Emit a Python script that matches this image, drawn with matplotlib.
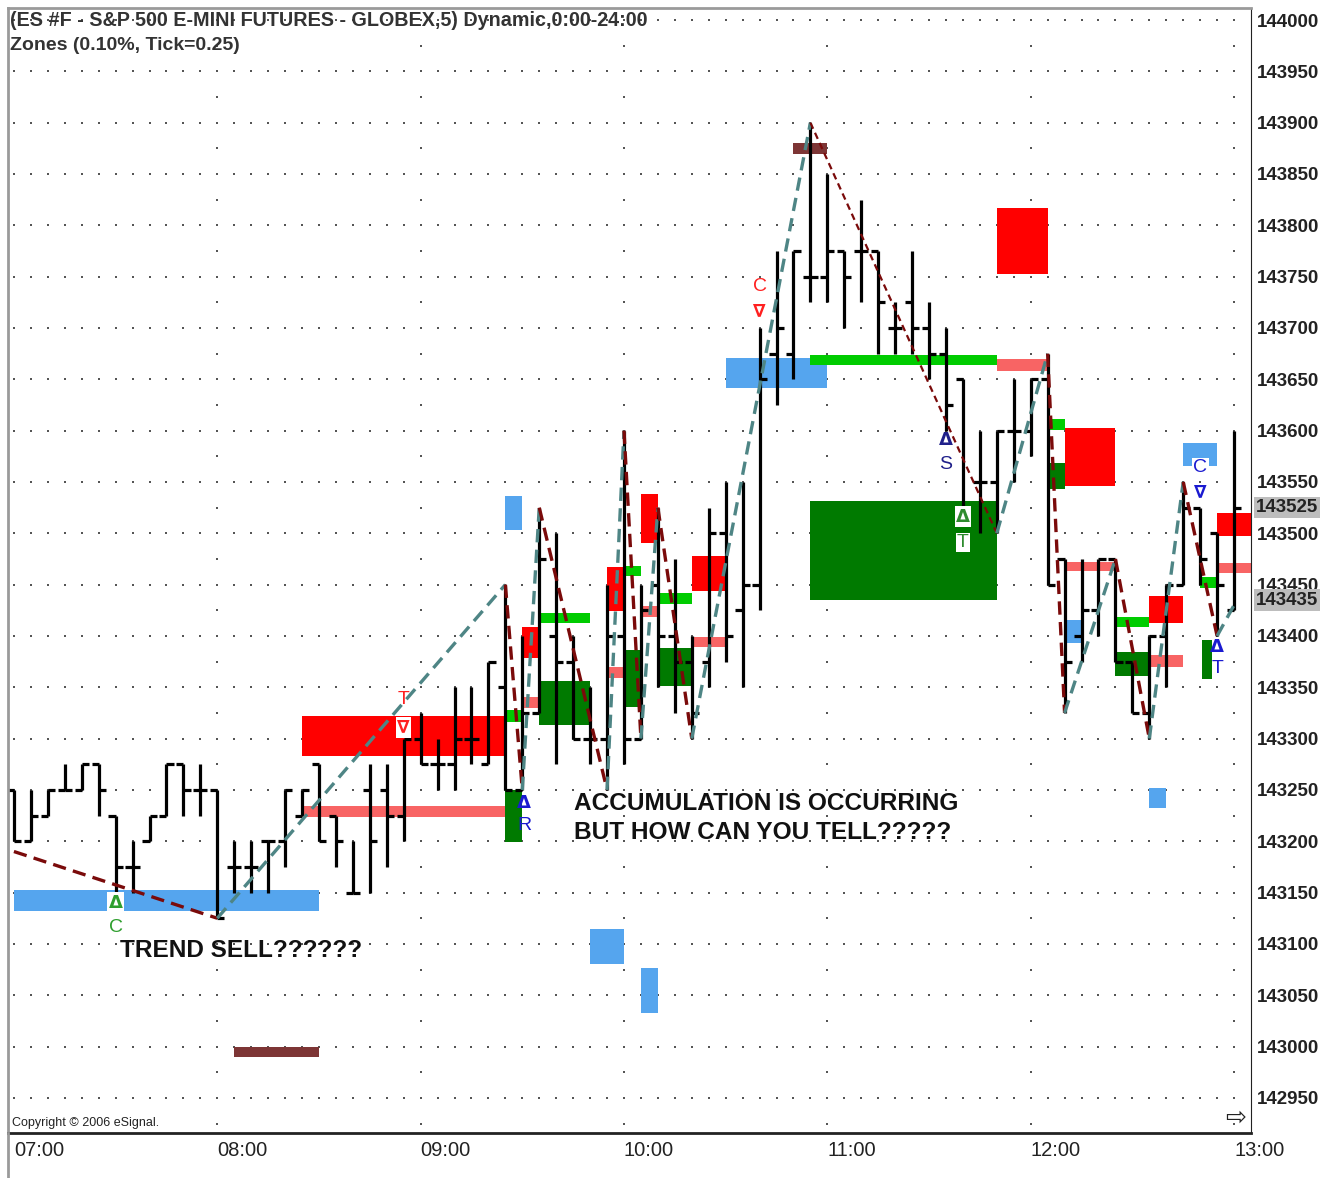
import numpy as np
import matplotlib.pyplot as plt

# 5-minute OHLC bars from 07:00 to 13:00 (price shown x100)
opens = [143250, 143200, 143225, 143250, 143250, 143275, 143225, 143175, 143200, 143225,
         143275, 143250, 143250, 143175, 143175, 143200, 143200, 143225, 143275, 143225,
         143150, 143250, 143250, 143225, 143300, 143275, 143275, 143300, 143275, 143350,
         143250, 143325, 143400, 143375, 143300, 143300, 143400, 143300, 143450, 143400,
         143375, 143375, 143500, 143425, 143450, 143675, 143675, 143750, 143750, 143775,
         143775, 143775, 143700, 143725, 143700, 143675, 143650, 143550, 143550, 143600,
         143600, 143650, 143475, 143400, 143425, 143475, 143375, 143325, 143400, 143450,
         143525, 143500, 143425]
highs = [143250, 143250, 143250, 143275, 143275, 143275, 143225, 143200, 143225, 143275,
         143275, 143275, 143250, 143200, 143200, 143200, 143250, 143250, 143275, 143225,
         143200, 143275, 143275, 143300, 143325, 143300, 143350, 143350, 143375, 143450,
         143400, 143525, 143500, 143400, 143350, 143450, 143600, 143450, 143525, 143475,
         143400, 143525, 143550, 143550, 143700, 143775, 143775, 143900, 143850, 143775,
         143825, 143775, 143725, 143775, 143725, 143700, 143650, 143600, 143600, 143650,
         143650, 143675, 143475, 143475, 143475, 143475, 143375, 143400, 143450, 143550,
         143525, 143500, 143600]
lows = [143200, 143200, 143225, 143250, 143250, 143225, 143150, 143150, 143200, 143225,
        143225, 143225, 143125, 143150, 143150, 143150, 143175, 143225, 143200, 143175,
        143150, 143150, 143175, 143200, 143275, 143250, 143250, 143275, 143275, 143250,
        143250, 143325, 143275, 143300, 143275, 143250, 143275, 143300, 143350, 143325,
        143300, 143350, 143375, 143350, 143425, 143625, 143650, 143725, 143725, 143700,
        143725, 143675, 143675, 143675, 143650, 143600, 143525, 143500, 143500, 143550,
        143575, 143450, 143325, 143375, 143400, 143375, 143325, 143300, 143350, 143450,
        143450, 143400, 143425]
closes = [143200, 143225, 143250, 143250, 143275, 143250, 143175, 143175, 143225, 143275,
          143250, 143250, 143125, 143175, 143175, 143200, 143250, 143250, 143200, 143200,
          143150, 143200, 143225, 143300, 143275, 143275, 143300, 143300, 143375, 143250,
          143325, 143475, 143375, 143300, 143300, 143400, 143300, 143425, 143400, 143375,
          143325, 143500, 143400, 143450, 143650, 143700, 143775, 143750, 143775, 143750,
          143775, 143725, 143700, 143700, 143675, 143625, 143525, 143550, 143600, 143600,
          143650, 143450, 143375, 143425, 143475, 143375, 143325, 143400, 143450, 143525,
          143475, 143450, 143525]

time_labels = ['07:00', '08:00', '09:00', '10:00', '11:00', '12:00', '13:00']

# zones: start bar, end bar, low, high, kind
zone_start = [0, 13, 17, 17, 29, 29, 29, 30, 30, 31, 31, 35, 36, 35, 36, 37, 37, 38, 38, 40, 40,
              34, 37, 42, 46, 47, 58, 58, 47, 61, 62, 61, 62, 62, 65, 65, 67, 67, 67, 69, 70,
              71, 71, 70.1]
zone_end = [18, 18, 29, 29, 30, 30, 30, 31, 31, 34, 34, 36, 37, 36, 37, 38, 38, 40, 40, 42, 42,
            36, 38, 48, 48, 58, 61, 61, 58, 62, 65, 62, 65, 63, 67, 67, 69, 69, 68, 71, 71,
            73, 73, 70.7]
zone_low = [143132, 142990, 143283, 143224, 143199, 143503, 143316, 143330, 143379, 143413,
            143313, 143424, 143458, 143359, 143331, 143491, 143418, 143431, 143351, 143444,
            143389, 143080, 143033, 143642, 143869, 143664, 143753, 143658, 143435, 143601,
            143546, 143543, 143463, 143393, 143409, 143361, 143413, 143370, 143232, 143566,
            143447, 143497, 143461, 143358]
zone_high = [143153, 143000, 143322, 143234, 143250, 143536, 143328, 143341, 143409, 143422,
             143356, 143467, 143468, 143370, 143386, 143538, 143429, 143442, 143388, 143478,
             143399, 143115, 143077, 143671, 143880, 143674, 143817, 143670, 143531, 143611,
             143603, 143568, 143472, 143416, 143418, 143384, 143439, 143381, 143252, 143588,
             143457, 143520, 143471, 143396]
zone_kind = ['blue', 'brown', 'red', 'salmon', 'dkgreen', 'blue', 'lime', 'salmon', 'red', 'lime',
             'dkgreen', 'red', 'lime', 'salmon', 'dkgreen', 'red', 'salmon', 'lime', 'dkgreen', 'red',
             'salmon', 'blue', 'blue', 'blue', 'brown', 'lime', 'red', 'salmon', 'dkgreen', 'lime',
             'red', 'dkgreen', 'salmon', 'blue', 'lime', 'dkgreen', 'red', 'salmon', 'blue', 'blue',
             'lime', 'red', 'salmon', 'dkgreen']

# swing pivots (bar index) alternating low / high
pivot_idx = [12, 29, 30, 31, 35, 36, 37, 38, 40, 47, 58, 61, 62, 65, 67, 69, 71]
swing_start = (0, 143190)
swing_end = (72, 143430)

# signal markers: bar, price of symbol, price of letter, symbol, letter, colour, boxed
sig_bar = [6, 23, 30.1, 44, 55, 56, 70, 71]
sig_sym_price = [143140, 143311, 143237, 143716, 143591, 143516, 143540, 143389]
sig_txt_price = [143116, 143338, 143215, 143740, 143567, 143491, 143564, 143368]
sig_sym = ['Δ', '∇', 'Δ', '∇', 'Δ', 'Δ', '∇', 'Δ']
sig_letter = ['C', 'T', 'R', 'C', 'S', 'T', 'C', 'T']
sig_color = ['#2E9E2E', '#FF2020', '#1A1AD0', '#FF2020', '#20208A', '#2E8B2E', '#1A1AD0', '#1A1AD0']
sig_box = [True, True, False, False, False, True, False, False]
sig_letter_box = [True, False, False, False, False, True, True, False]

colors = {'blue': '#55A5EE', 'brown': '#7D3535', 'red': '#FF0000', 'salmon': '#F86464',
          'lime': '#00CC00', 'dkgreen': '#007A00'}

plt.rcParams['font.family'] = ['Liberation Sans', 'DejaVu Sans']

fig = plt.figure(figsize=(13.36, 11.78), dpi=100)
ax = fig.add_axes([8 / 1336, 45 / 1178, (1251 - 8) / 1336, (1133 - 8) / 1178])
ax.set_xlim(-0.35, 73.0)
ax.set_ylim(142915.8, 144011.7)

n = len(opens)
x = np.arange(n)

# dotted grid
gx, gy = np.meshgrid(x, np.arange(142950, 144001, 50))
ax.scatter(gx.ravel(), gy.ravel(), s=2.5, c='#555555', marker='s', lw=0, zorder=0)
vx, vy = np.meshgrid(np.arange(12, 73, 12), np.arange(142925, 144001, 25))
ax.scatter(vx.ravel(), vy.ravel(), s=2.5, c='#555555', marker='s', lw=0, zorder=0)

# zones
for s, e, lo, hi, k in zip(zone_start, zone_end, zone_low, zone_high, zone_kind):
    ax.bar(s, hi - lo, width=e - s, bottom=lo, align='edge', color=colors[k], lw=0, zorder=1)

# OHLC bars
ax.vlines(x, lows, highs, color='black', lw=2.3, zorder=2)
ax.hlines(opens, x - 0.42, x, color='black', lw=2.3, zorder=2)
ax.hlines(closes, x, x + 0.42, color='black', lw=2.3, zorder=2)

# zig-zag swings
px = [swing_start[0]]
py = [swing_start[1]]
for k, i in enumerate(pivot_idx):
    px.append(i)
    py.append(lows[i] if k % 2 == 0 else highs[i])
px.append(swing_end[0])
py.append(swing_end[1])
for k in range(len(px) - 1):
    down = py[k + 1] < py[k]
    thin = px[k] == 47
    ax.plot(px[k:k + 2], py[k:k + 2], color='#7A0A0A' if down else '#4E8585',
            lw=1.6 if thin else 2.4, dashes=(3, 2) if thin else (4, 2.2), zorder=3)

# signals
white = dict(facecolor='white', edgecolor='none', pad=1)
for b, sp, tp, sym, let, col, box, lbox in zip(sig_bar, sig_sym_price, sig_txt_price, sig_sym,
                                               sig_letter, sig_color, sig_box, sig_letter_box):
    ax.text(b, sp, sym, color=col, fontsize=13, fontweight='bold', ha='center', va='center',
            family='DejaVu Sans', bbox=white if box else None, zorder=5)
    ax.text(b, tp, let, color=col, fontsize=14, ha='center', va='center',
            bbox=white if lbox else None, zorder=5)

# annotations
ax.text(33.05, 143237, 'ACCUMULATION IS OCCURRING', fontsize=17.6, fontweight='bold',
        color='#111111', ha='left', va='center', zorder=6)
ax.text(33.05, 143209, 'BUT HOW CAN YOU TELL?????', fontsize=17.6, fontweight='bold',
        color='#111111', ha='left', va='center', zorder=6)
ax.text(6.25, 143094, 'TREND SELL??????', fontsize=17.6, fontweight='bold',
        color='#111111', ha='left', va='center', zorder=6)

fig.text(10 / 1336, 1 - 20 / 1178, '(ES #F - S&P 500 E-MINI FUTURES - GLOBEX,5) Dynamic,0:00-24:00',
         fontsize=14.2, fontweight='bold', color='#333333', ha='left', va='center')
fig.text(10 / 1336, 1 - 45 / 1178, 'Zones (0.10%, Tick=0.25)',
         fontsize=14, fontweight='bold', color='#333333', ha='left', va='center')
fig.text(12 / 1336, 1 - 1123 / 1178, 'Copyright © 2006 eSignal.', fontsize=9, color='#222222',
         ha='left', va='center')
fig.text(1236 / 1336, 1 - 1118 / 1178, '⇨', fontsize=18, family='DejaVu Sans', color='#222222',
         ha='center', va='center')

# axes styling
ax.yaxis.tick_right()
ax.set_yticks(np.arange(142950, 144001, 50))
ax.set_yticklabels([str(v) for v in range(142950, 144001, 50)])
ax.tick_params(axis='y', length=0, pad=4, labelsize=13.5, labelcolor='#222222')
for lab in ax.get_yticklabels():
    lab.set_fontweight('bold')
ax.set_xticks(np.arange(0, 73, 12))
ax.set_xticklabels(time_labels, ha='left')
ax.tick_params(axis='x', length=0, pad=6, labelsize=14.5, labelcolor='#222222')

for price, txt in [(143525, '143525'), (143435, '143435')]:
    ax.text(1.004, price, txt, transform=ax.get_yaxis_transform(), fontsize=13.5, fontweight='bold',
            color='#222222', ha='left', va='center', clip_on=False, zorder=7,
            bbox=dict(facecolor='#BDBDBD', edgecolor='none', pad=1.5))

ax.spines['left'].set_color('#9A9A9A')
ax.spines['top'].set_color('#9A9A9A')
ax.spines['left'].set_linewidth(2)
ax.spines['top'].set_linewidth(2)
ax.spines['right'].set_color('#222222')
ax.spines['bottom'].set_color('#222222')
ax.spines['bottom'].set_linewidth(2)

fig.add_artist(plt.Line2D([8 / 1336, 8 / 1336], [0, 45 / 1178], color='#9A9A9A', lw=2))

fig.savefig('out.png', dpi=100)
